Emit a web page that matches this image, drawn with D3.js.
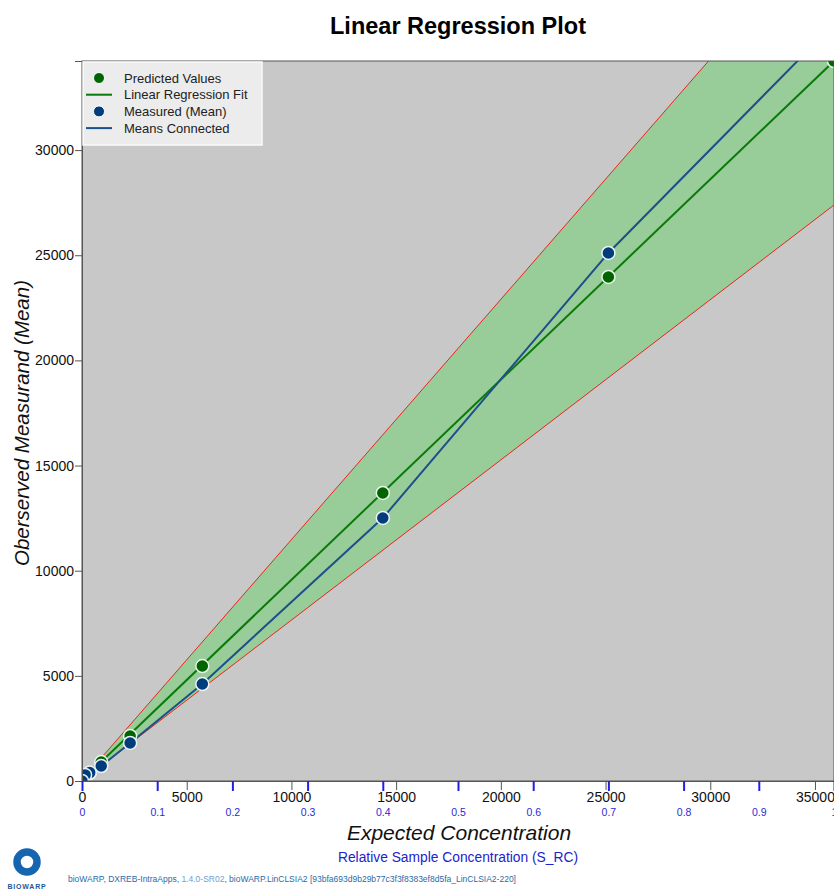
<!DOCTYPE html>
<html><head><meta charset="utf-8">
<script src="https://cdn.jsdelivr.net/npm/d3@7"></script>
<style>body{margin:0;background:#fff;font-family:"Liberation Sans",Arial,sans-serif;}</style>
</head><body>
<svg id="c" width="834" height="890"></svg>
<script>
// ---- data ----
const xMax = 35908;           // expected concentration at S_RC = 1
const yMax = 34236;
const relConc = [1, 0.7, 0.4, 0.16, 0.064, 0.0256, 0.01024, 0.0041, 0];
const expected = [35908, 25136, 14363, 5745, 2298, 919, 368, 147, 0];
const predicted = [34236, 23966, 13695, 5468, 2140, 903, 380, 180, 40];
const measured = [36000, 25107, 12506, 4612, 1807, 713, 400, 290, 0];
const fitLine = [[0, 40], [35908, 34236]];
const upperBand = [[0, 48], [35908, 41083]];
const lowerBand = [[0, 32], [35908, 27389]];
const yTicks = [0, 5000, 10000, 15000, 20000, 25000, 30000];
const xTicks = [0, 5000, 10000, 15000, 20000, 25000, 30000, 35000];
const relTicks = [0, 0.1, 0.2, 0.3, 0.4, 0.5, 0.6, 0.7, 0.8, 0.9, 1];
const legendItems = [
  {label: "Predicted Values", type: "dot", color: "#006400"},
  {label: "Linear Regression Fit", type: "line", color: "#0a7a0a"},
  {label: "Measured (Mean)", type: "dot", color: "#003d7a"},
  {label: "Means Connected", type: "line", color: "#1f4f8a"}
];

// ---- layout ----
const L = 82, R = 834, T = 61, B = 781;
const svg = d3.select("#c");
const x = d3.scaleLinear().domain([0, xMax]).range([L, R]);
const xr = d3.scaleLinear().domain([0, 1]).range([L, R]);
const y = d3.scaleLinear().domain([0, yMax]).range([B, T]);

svg.append("defs").append("clipPath").attr("id", "clip")
  .append("rect").attr("x", L).attr("y", T).attr("width", R - L).attr("height", B - T);

svg.append("rect").attr("x", L).attr("y", T).attr("width", R - L).attr("height", B - T)
  .attr("fill", "#c8c8c8");

const g = svg.append("g").attr("clip-path", "url(#clip)");

// band
const bandPts = upperBand.concat(lowerBand.slice().reverse());
g.append("path").attr("d", d3.line().x(d => x(d[0])).y(d => y(d[1]))(bandPts) + "Z")
  .attr("fill", "#98cc98");
const ln = d3.line().x(d => x(d[0])).y(d => y(d[1]));
g.append("path").attr("d", ln(upperBand)).attr("stroke", "#e8261e").attr("stroke-width", 1).attr("fill", "none");
g.append("path").attr("d", ln(lowerBand)).attr("stroke", "#e8261e").attr("stroke-width", 1).attr("fill", "none");

// fit line
g.append("path").attr("d", ln(fitLine)).attr("stroke", "#0a7a0a").attr("stroke-width", 2).attr("fill", "none");
// means connected
const mPts = expected.map((e, i) => [e, measured[i]]);
g.append("path").attr("d", ln(mPts)).attr("stroke", "#1f4f8a").attr("stroke-width", 2).attr("fill", "none");

// points
const pPts = expected.map((e, i) => [e, predicted[i]]);
g.selectAll(".pp").data(pPts).join("circle").attr("cx", d => x(d[0])).attr("cy", d => y(d[1]))
  .attr("r", 6.5).attr("fill", "#006400").attr("stroke", "#e8f4e8").attr("stroke-width", 1.5);
g.selectAll(".mp").data(mPts).join("circle").attr("cx", d => x(d[0])).attr("cy", d => y(d[1]))
  .attr("r", 6.5).attr("fill", "#003d7a").attr("stroke", "#eef2f8").attr("stroke-width", 1.5);

// frame
svg.append("rect").attr("x", L).attr("y", T).attr("width", R - L).attr("height", B - T)
  .attr("fill", "none").attr("stroke", "#555").attr("stroke-width", 1);

// y axis
const ya = svg.append("g").attr("transform", `translate(${L},0)`)
  .call(d3.axisLeft(y).tickValues(yTicks).tickSize(7).tickPadding(1).tickFormat(d3.format("d")));
ya.select(".domain").attr("stroke", "#555");
ya.selectAll(".tick line").attr("stroke", "#555");
ya.selectAll(".tick text").attr("font-size", 14).attr("fill", "#111").attr("font-family", "Liberation Sans, Arial, sans-serif");

// x axis primary
const xa = svg.append("g").attr("transform", `translate(0,${B})`)
  .call(d3.axisBottom(x).tickValues(xTicks).tickSize(9).tickPadding(2).tickFormat(d3.format("d")));
xa.select(".domain").attr("stroke", "#555");
xa.selectAll(".tick line").attr("stroke", "#555");
xa.selectAll(".tick text").attr("font-size", 14).attr("fill", "#111").attr("font-family", "Liberation Sans, Arial, sans-serif");

// x axis secondary
const xb = svg.append("g").attr("transform", `translate(0,${B})`)
  .call(d3.axisBottom(xr).tickValues(relTicks).tickSize(10).tickPadding(18).tickFormat(d => d3.format("")(d)));
xb.select(".domain").remove();
xb.selectAll(".tick line").attr("stroke", "#2020e0").attr("stroke-width", 2);
xb.selectAll(".tick text").attr("font-size", 10.5).attr("fill", "#2a2ad8").attr("font-family", "Liberation Sans, Arial, sans-serif");

// titles
svg.append("text").attr("x", 458).attr("y", 34).attr("text-anchor", "middle")
  .attr("font-size", 23.5).attr("font-weight", "bold").attr("fill", "#000").text("Linear Regression Plot");
svg.append("text").attr("x", 459).attr("y", 840).attr("text-anchor", "middle")
  .attr("font-size", 21).attr("font-style", "italic").attr("fill", "#111").text("Expected Concentration");
svg.append("text").attr("x", 458).attr("y", 862).attr("text-anchor", "middle")
  .attr("font-size", 13.8).attr("fill", "#2222cc").text("Relative Sample Concentration (S_RC)");
svg.append("text").attr("transform", "translate(29,423) rotate(-90)").attr("text-anchor", "middle")
  .attr("font-size", 20.5).attr("font-style", "italic").attr("fill", "#111").text("Oberserved Measurand (Mean)");

// legend
svg.append("rect").attr("x", L + 1).attr("y", T + 1).attr("width", 179).attr("height", 83)
  .attr("fill", "#ececec").attr("stroke", "#fafafa").attr("stroke-width", 1.5);
const lg = svg.append("g");
legendItems.forEach((it, i) => {
  const yy = 78 + i * 16.7;
  if (it.type === "dot") {
    lg.append("circle").attr("cx", 99).attr("cy", yy).attr("r", 5.5).attr("fill", it.color)
      .attr("stroke", "#fff").attr("stroke-width", 1);
  } else {
    lg.append("line").attr("x1", 86).attr("x2", 112).attr("y1", yy).attr("y2", yy)
      .attr("stroke", it.color).attr("stroke-width", 2);
  }
  lg.append("text").attr("x", 124).attr("y", yy + 4.5).attr("font-size", 13).attr("fill", "#222").text(it.label);
});

// footer logo
svg.append("circle").attr("cx", 27).attr("cy", 862).attr("r", 10).attr("fill", "none")
  .attr("stroke", "#1565b0").attr("stroke-width", 7.5);
svg.append("text").attr("x", 27).attr("y", 889).attr("text-anchor", "middle").attr("font-size", 7)
  .attr("font-weight", "bold").attr("fill", "#1f5a96").attr("letter-spacing", 0.8).text("BIOWARP");
const ft = svg.append("text").attr("x", 68).attr("y", 882).attr("font-size", 8.5).attr("fill", "#2a6aa8");
ft.append("tspan").text("bioWARP, DXREB-IntraApps, ");
ft.append("tspan").attr("fill", "#6fa0d0").text("1.4.0-SR02");
ft.append("tspan").text(", bioWARP.LinCLSIA2 [93bfa693d9b29b77c3f3f8383ef8d5fa_LinCLSIA2-220]");
</script>
</body></html>
